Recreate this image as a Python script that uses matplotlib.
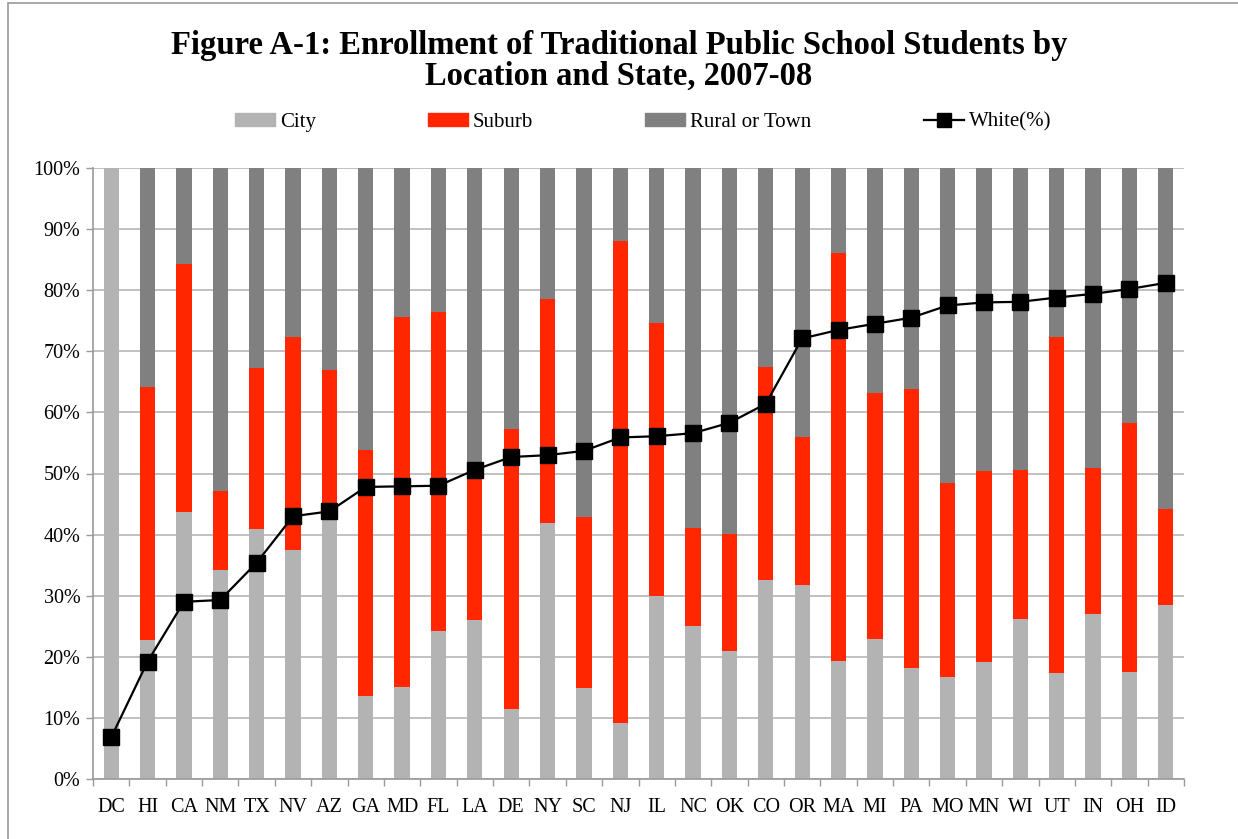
import numpy as np
import matplotlib
matplotlib.use("Agg")
import matplotlib.pyplot as plt
from matplotlib.patches import Patch, Rectangle
from matplotlib.lines import Line2D

plt.rcParams['font.family'] = ['Liberation Serif', 'DejaVu Serif']

states = ["DC", "HI", "CA", "NM", "TX", "NV", "AZ", "GA", "MD", "FL",
          "LA", "DE", "NY", "SC", "NJ", "IL", "NC", "OK", "CO", "OR",
          "MA", "MI", "PA", "MO", "MN", "WI", "UT", "IN", "OH", "ID"]

# city share (%)
city = [100, 22.7, 43.7, 34.2, 40.9, 37.5, 42.5, 13.6, 15.1, 24.2,
        26.0, 11.5, 41.9, 14.9, 9.2, 30.0, 25.0, 21.0, 32.6, 31.8,
        19.3, 22.9, 18.2, 16.7, 19.1, 26.2, 17.3, 27.0, 17.5, 28.5]

# city + suburb share (%)
city_suburb = [100, 64.2, 84.3, 47.1, 67.3, 72.3, 67.0, 53.9, 75.6, 76.4,
               49.1, 57.3, 78.6, 42.9, 88.1, 74.6, 41.1, 40.1, 67.4, 56.0,
               86.1, 63.2, 63.8, 48.4, 50.4, 50.6, 72.3, 50.9, 58.3, 44.2]

white = [6.8, 19.2, 29.0, 29.3, 35.4, 43.0, 43.8, 47.8, 47.9, 48.0,
         50.6, 52.7, 53.0, 53.7, 55.9, 56.1, 56.6, 58.3, 61.4, 72.1,
         73.5, 74.5, 75.5, 77.5, 78.0, 78.1, 78.8, 79.4, 80.2, 81.2]

city = np.array(city)
suburb = np.array(city_suburb) - city
rural = 100 - np.array(city_suburb)

c_city = "#b3b3b3"
c_sub = "#ff2600"
c_rural = "#808080"

fig = plt.figure(figsize=(12.38, 8.39), dpi=100)
ax = fig.add_axes([93 / 1238, 60 / 839, 1091 / 1238, 611 / 839])

x = np.arange(len(states))
w = 0.42
ax.bar(x, city, w, color=c_city, zorder=2)
ax.bar(x, suburb, w, bottom=city, color=c_sub, zorder=2)
ax.bar(x, rural, w, bottom=city + suburb, color=c_rural, zorder=2)
ax.plot(x, white, color="black", lw=1.6, marker="s", ms=11.5, zorder=3)

ax.set_xlim(-0.5, len(states) - 0.5)
ax.set_ylim(0, 100)
ax.set_yticks(np.arange(0, 101, 10))
ax.set_yticklabels([f"{v}%" for v in range(0, 101, 10)])
ax.set_xticks(x)
ax.set_xticklabels(states)
ax.set_xticks(np.arange(-0.5, len(states), 1), minor=True)
ax.tick_params(axis="x", which="major", length=0, labelsize=14.5, pad=14)
ax.tick_params(axis="x", which="minor", length=5, color="#999999", width=1)
ax.tick_params(axis="y", length=5, color="#999999", width=1, labelsize=14.5, pad=4)
ax.yaxis.grid(True, color="#c0c0c0", lw=1.4, zorder=0)
ax.set_axisbelow(True)
for s in ["top", "right"]:
    ax.spines[s].set_visible(False)
for s in ["left", "bottom"]:
    ax.spines[s].set_color("#999999")
    ax.spines[s].set_linewidth(1.2)

fig.text(0.5, 1 - 54 / 839, "Figure A-1: Enrollment of Traditional Public School Students by",
         ha="center", va="baseline", fontsize=23.5, fontweight="bold")
fig.text(0.5, 1 - 85 / 839, "Location and State, 2007-08",
         ha="center", va="baseline", fontsize=23.5, fontweight="bold")

handles = [Patch(color=c_city), Patch(color=c_sub), Patch(color=c_rural),
           Line2D([], [], color="black", lw=1.6, marker="s", ms=10)]
labels = ["City", "Suburb", "Rural or Town", "White(%)"]
fig.legend(handles, labels, loc="center", bbox_to_anchor=(643 / 1238, 1 - 122 / 839),
           ncol=4, frameon=False, fontsize=15, columnspacing=5.37,
           handlelength=1.92, handleheight=0.58, handletextpad=0.25)

# outer frame of the chart
fig.patches.append(Rectangle((8 / 1238, -0.1), 1.2, 1.1 - 3 / 839, transform=fig.transFigure,
                             fill=False, edgecolor="#999999", lw=1.2))

fig.savefig("out.png", dpi=100)
